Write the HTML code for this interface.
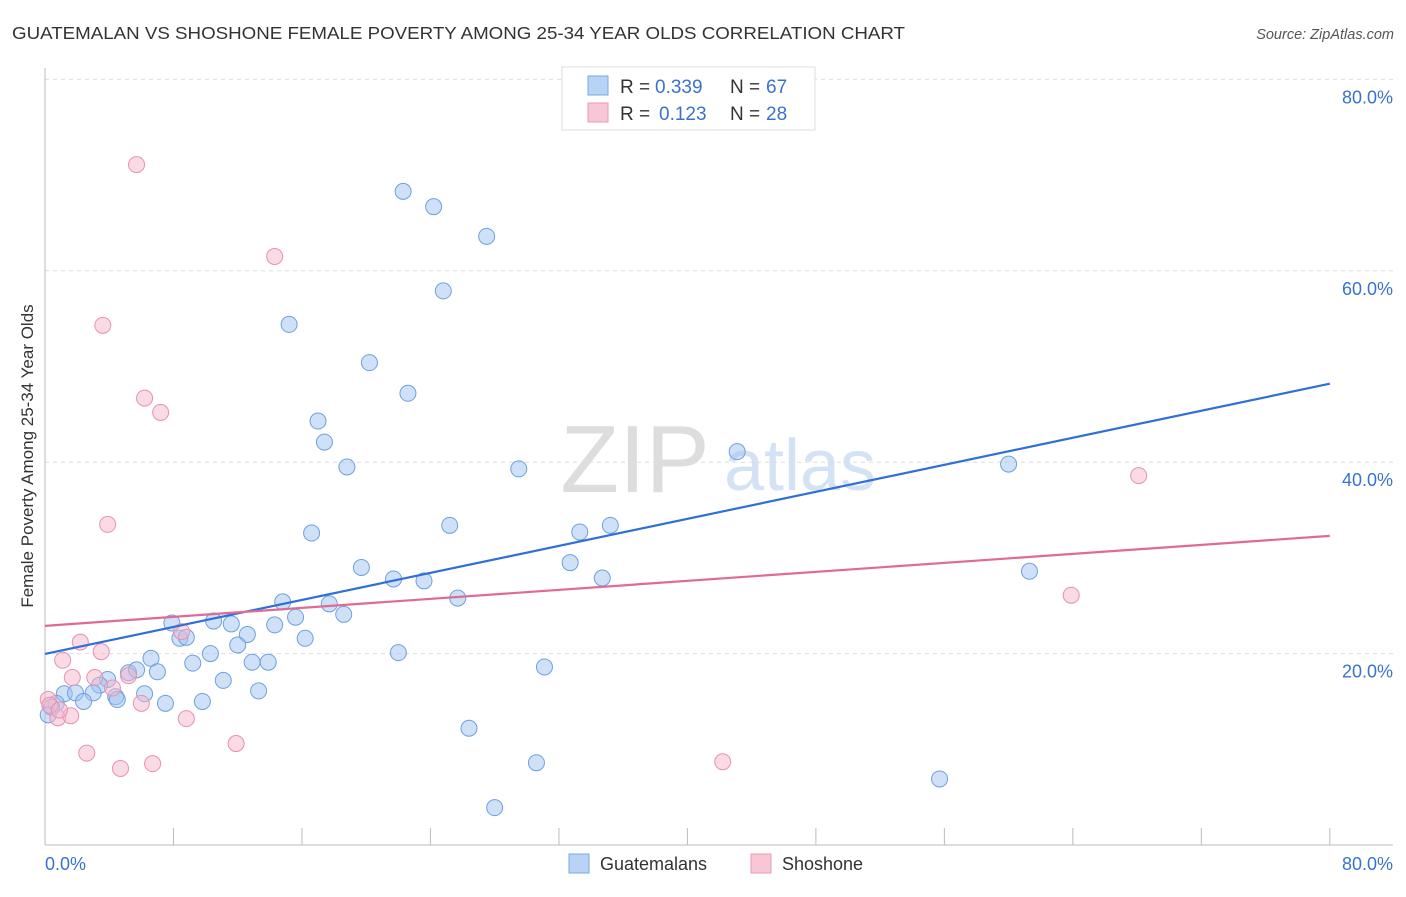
<!DOCTYPE html>
<html><head><meta charset="utf-8"><style>
body{margin:0;background:#fff;font-family:"Liberation Sans",sans-serif}
svg text{font-family:"Liberation Sans",sans-serif}
</style></head><body>
<svg id="c" width="1406" height="892">
<text x="12" y="39" font-size="17.5" fill="#333" textLength="893" lengthAdjust="spacingAndGlyphs">GUATEMALAN VS SHOSHONE FEMALE POVERTY AMONG 25-34 YEAR OLDS CORRELATION CHART</text>
<text x="1394" y="39" font-size="14.5" fill="#555" font-style="italic" text-anchor="end">Source: ZipAtlas.com</text>
<text x="635" y="492" font-size="96" fill="#ddd" font-family="Liberation Serif" text-anchor="middle">ZIP</text>
<text x="800" y="490" font-size="72" fill="#d4e2f5" text-anchor="middle">atlas</text>
<g id="grid"></g><g id="axes"></g><g id="pts"></g><g id="lines"></g>
<text x="33" y="456" font-size="17" fill="#333" text-anchor="middle" transform="rotate(-90 33 456)">Female Poverty Among 25-34 Year Olds</text>
<g>
<rect x="562" y="67" width="253" height="63" fill="#fff" stroke="#ddd"/>
<rect x="588" y="76" width="20" height="19" fill="#b8d3f5" stroke="#7aa7e3"/>
<rect x="588" y="103" width="20" height="19" fill="#f9c6d6" stroke="#eb9ab6"/>
<text x="620" y="93" font-size="19" fill="#333">R =</text>
<text x="655" y="93" font-size="19" fill="#3a72d0">0.339</text>
<text x="730" y="93" font-size="19" fill="#333">N =</text>
<text x="766" y="93" font-size="19" fill="#3a72d0">67</text>
<text x="620" y="120" font-size="19" fill="#333">R =</text>
<text x="659" y="120" font-size="19" fill="#3a72d0">0.123</text>
<text x="730" y="120" font-size="19" fill="#333">N =</text>
<text x="766" y="120" font-size="19" fill="#3a72d0">28</text>
</g>
<g>
<rect x="569" y="854" width="20" height="19" fill="#b8d3f5" stroke="#7aa7e3"/>
<text x="600" y="870" font-size="18" fill="#333">Guatemalans</text>
<rect x="751" y="854" width="20" height="19" fill="#f9c6d6" stroke="#eb9ab6"/>
<text x="782" y="870" font-size="18" fill="#333">Shoshone</text>
</g>
</svg>
<script>
const blueX=[22.3,24.2,27.5,24.8,15.2,20.2,22.6,17.0,17.4,18.8,29.5,43.1,60.0,25.2,33.3,35.2,16.6,19.7,32.7,21.7,23.6,34.7,61.3,25.7,14.8,17.7,18.6,15.6,7.9,10.5,11.6,14.3,8.4,8.8,12.6,16.2,12.0,10.3,22.0,6.6,9.2,12.9,13.9,31.1,7.0,5.2,5.7,11.1,3.9,3.4,13.3,1.2,1.9,3.0,6.2,4.4,2.4,4.5,9.8,7.5,0.7,0.4,0.2,26.4,30.6,55.7,28.0];
const blueY=[68.3,66.7,63.6,57.9,54.4,50.4,47.2,44.3,42.1,39.5,39.3,41.1,39.8,33.4,32.7,33.4,32.6,29.0,29.5,27.8,27.6,27.9,28.6,25.8,25.4,25.2,24.1,23.8,23.2,23.4,23.1,23.0,21.6,21.7,22.0,21.6,20.9,20.0,20.1,19.5,19.0,19.1,19.1,18.6,18.1,18.0,18.3,17.2,17.3,16.7,16.1,15.8,15.9,15.9,15.8,15.5,15.0,15.2,15.0,14.8,14.8,14.4,13.6,12.2,8.6,6.9,3.9];
const pinkX=[5.7,14.3,3.6,6.2,7.2,3.9,68.1,63.9,2.2,8.5,3.5,1.1,1.7,3.1,5.2,4.2,0.2,0.8,1.6,6.0,8.8,11.9,2.6,4.7,6.7,42.2,0.3,0.9];
const pinkY=[71.1,61.5,54.3,46.7,45.2,33.5,38.6,26.1,21.2,22.3,20.2,19.3,17.5,17.5,17.7,16.4,15.2,13.3,13.5,14.8,13.2,10.6,9.6,8.0,8.5,8.7,14.6,14.1];
const blueTrend=[19.96,48.2];
const pinkTrend=[22.9,32.3];
const yTicks=[20,40,60,80];
const xTickLabels=["0.0%","80.0%"];
const NS="http://www.w3.org/2000/svg";
const X=v=>45+v*16.06, Y=v=>845-v*9.57;
function mk(p,t,a){const e=document.createElementNS(NS,t);for(const k in a)e.setAttribute(k,a[k]);document.getElementById(p).appendChild(e);return e;}
yTicks.forEach(t=>{
 const g=mk('grid','line',{x1:45,x2:1393,y1:Y(t),y2:Y(t),stroke:'#ddd','stroke-dasharray':'4,4'});
 
 
 const l=mk('grid','text',{x:1393,y:Y(t)+24,'font-size':18,fill:'#3a72d0','text-anchor':'end'});
 l.textContent=t.toFixed(1)+'%';
 
 
});
mk('axes','line',{x1:45,x2:45,y1:68,y2:845,stroke:'#bbb'});
mk('axes','line',{x1:45,x2:1393,y1:845,y2:845,stroke:'#bbb'});
for(let i=1;i<=10;i++){const t=mk('axes','line',{x1:X(i*8),x2:X(i*8),y1:828,y2:845,stroke:'#bbb'});
 
 }
const a=mk('axes','text',{x:45,y:870,'font-size':18,fill:'#3a72d0'});a.textContent=xTickLabels[0];


const b=mk('axes','text',{x:1393,y:870,'font-size':18,fill:'#3a72d0','text-anchor':'end'});b.textContent=xTickLabels[1];


blueX.forEach((x,i)=>{const c=mk('pts','circle',{cx:X(x),cy:Y(blueY[i]),r:8,fill:'rgba(160,196,240,0.5)',stroke:'#6f9fe0','stroke-width':1});
 
 });
pinkX.forEach((x,i)=>{const c=mk('pts','circle',{cx:X(x),cy:Y(pinkY[i]),r:8,fill:'rgba(246,182,204,0.5)',stroke:'#e891b1','stroke-width':1});
 
 });
const bl=mk('lines','line',{x1:X(0),y1:Y(blueTrend[0]),x2:X(80),y2:Y(blueTrend[1]),stroke:'#2f6fd6','stroke-width':2.2});


const pl=mk('lines','line',{x1:X(0),y1:Y(pinkTrend[0]),x2:X(80),y2:Y(pinkTrend[1]),stroke:'#e06a96','stroke-width':2.2});


</script>
</body></html>
